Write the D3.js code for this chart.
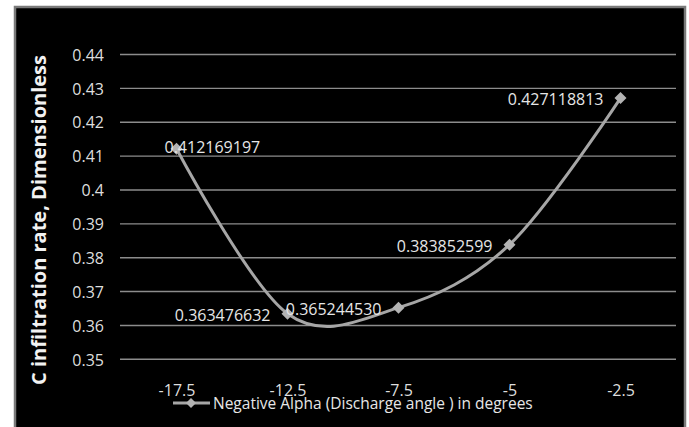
<!DOCTYPE html>
<html>
<head>
<meta charset="utf-8">
<script src="https://cdn.jsdelivr.net/npm/d3@7"></script>
<style>
  html, body { margin: 0; padding: 0; background: #ffffff; }
  svg { display: block; }
  text { font-family: "Open Sans", Calibri, sans-serif; }
</style>
</head>
<body>
<svg id="chart" width="689" height="427"></svg>
<script>
// Discharge angle categories and the measured infiltration rate at each
const categories = ["-17.5", "-12.5", "-7.5", "-5", "-2.5"];
const infiltration = [0.412169197, 0.363476632, 0.365244530, 0.383852599, 0.427118813];
const valueLabels = ["0.412169197", "0.363476632", "0.365244530", "0.383852599", "0.427118813"];
const yTicks = [0.35, 0.36, 0.37, 0.38, 0.39, 0.40, 0.41, 0.42, 0.43, 0.44];
const yTickLabels = ["0.35", "0.36", "0.37", "0.38", "0.39", "0.4", "0.41", "0.42", "0.43", "0.44"];
const seriesName = "Negative Alpha (Discharge angle ) in degrees";
const yTitle = "C infiltration rate, Dimensionless";

const svg = d3.select("#chart");

// chart frame
svg.append("rect")
  .attr("x", 15).attr("y", 7)
  .attr("width", 670).attr("height", 440)
  .attr("fill", "#000000")
  .attr("stroke", "#7a7a7a")
  .attr("stroke-width", 2.5);

const plot = { left: 121, right: 676, top: 54.5, bottom: 359.3 };

const x = d3.scalePoint()
  .domain(categories)
  .range([plot.left, plot.right])
  .padding(0.5);

const y = d3.scaleLinear()
  .domain([0.35, 0.44])
  .range([plot.bottom, plot.top]);

// horizontal gridlines
svg.append("g")
  .selectAll("line")
  .data(yTicks)
  .join("line")
  .attr("x1", 120).attr("x2", plot.right)
  .attr("y1", d => y(d)).attr("y2", d => y(d))
  .attr("stroke", "#8c8c8c")
  .attr("stroke-width", 1.4);

// y axis tick labels
const yAxis = d3.axisLeft(y)
  .tickValues(yTicks)
  .tickFormat((d, i) => yTickLabels[i])
  .tickSize(0)
  .tickPadding(0);
const gy = svg.append("g")
  .attr("transform", "translate(104,0)")
  .call(yAxis);
gy.select(".domain").remove();
gy.selectAll("text")
  .attr("fill", "#dedede")
  .attr("font-size", 16)
  .attr("font-family", "'Open Sans', sans-serif")
  .attr("dy", "0.36em");

// x axis tick labels
const xAxis = d3.axisBottom(x).tickSize(0).tickPadding(0);
const gx = svg.append("g")
  .attr("transform", "translate(0,382)")
  .call(xAxis);
gx.select(".domain").remove();
gx.selectAll("text")
  .attr("fill", "#dedede")
  .attr("font-size", 16)
  .attr("font-family", "'Open Sans', sans-serif")
  .attr("dy", "0.9em");

// y axis title
svg.append("text")
  .attr("transform", "translate(46,220) rotate(-90)")
  .attr("text-anchor", "middle")
  .attr("fill", "#f2f2f2")
  .attr("font-size", 20)
  .attr("font-weight", "bold")
  .text(yTitle);

// smoothed series line
const line = d3.line()
  .x((d, i) => x(categories[i]))
  .y(d => y(d))
  .curve(d3.curveCardinal.tension(0));

svg.append("path")
  .datum(infiltration)
  .attr("d", line)
  .attr("fill", "none")
  .attr("stroke", "#a6a6a6")
  .attr("stroke-width", 3);

// diamond markers
const diamond = r => `M0,${-r}L${r},0L0,${r}L${-r},0Z`;
svg.append("g")
  .selectAll("path")
  .data(infiltration)
  .join("path")
  .attr("transform", (d, i) => `translate(${x(categories[i])},${y(d)})`)
  .attr("d", diamond(6))
  .attr("fill", "#b3b3b3");

// data labels: to the left of each marker, first one kept inside the plot
svg.append("g")
  .selectAll("text")
  .data(infiltration)
  .join("text")
  .attr("x", (d, i) => i === 0 ? x(categories[i]) - 12 : x(categories[i]) - 17)
  .attr("y", (d, i) => y(d) + (i === 0 ? 4 : 7))
  .attr("text-anchor", (d, i) => i === 0 ? "start" : "end")
  .attr("fill", "#e6e6e6")
  .attr("font-size", 16)
  .text((d, i) => valueLabels[i]);

// legend
const legend = svg.append("g");
legend.append("line")
  .attr("x1", 173).attr("x2", 210)
  .attr("y1", 403).attr("y2", 403)
  .attr("stroke", "#a6a6a6")
  .attr("stroke-width", 3);
legend.append("path")
  .attr("transform", "translate(191,403)")
  .attr("d", diamond(5))
  .attr("fill", "#b3b3b3");
legend.append("text")
  .attr("x", 213).attr("y", 409)
  .attr("fill", "#e6e6e6")
  .attr("font-size", 15.5)
  .text(seriesName);
</script>
</body>
</html>
